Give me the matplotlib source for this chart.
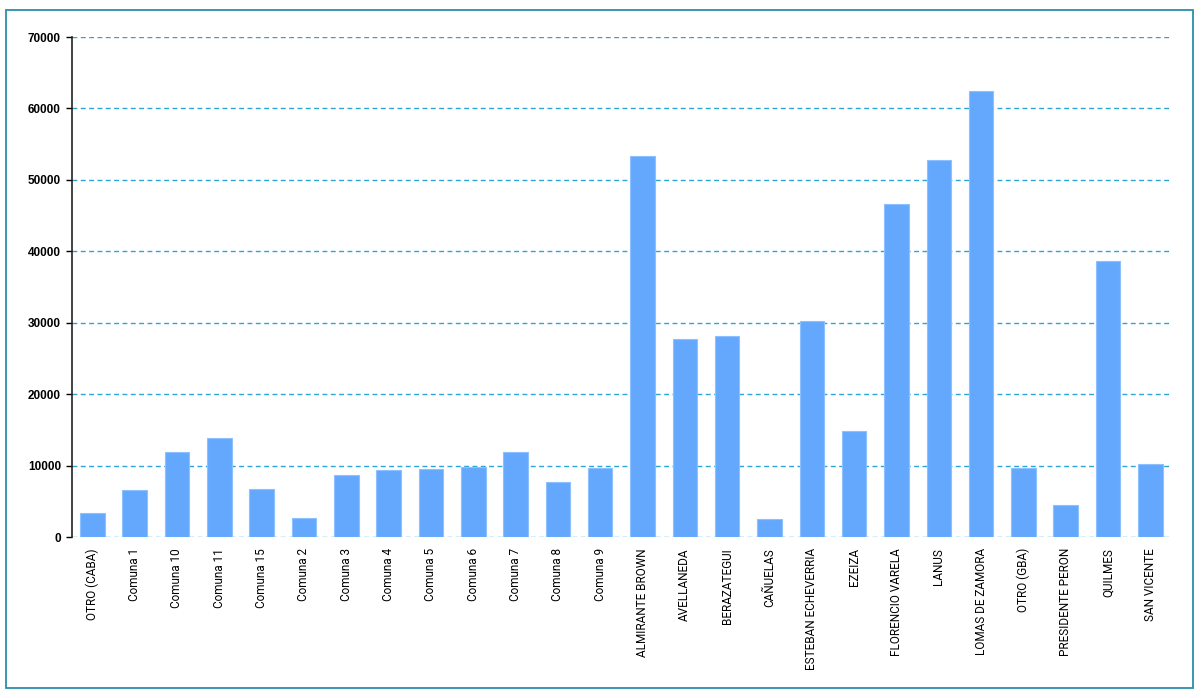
import matplotlib.pyplot as plt
import numpy as np
from matplotlib.patches import Rectangle

# categories and counts
zonas = ['OTRO (CABA)', 'Comuna 1', 'Comuna 10', 'Comuna 11', 'Comuna 15', 'Comuna 2',
         'Comuna 3', 'Comuna 4', 'Comuna 5', 'Comuna 6', 'Comuna 7', 'Comuna 8', 'Comuna 9',
         'ALMIRANTE BROWN', 'AVELLANEDA', 'BERAZATEGUI', 'CAÑUELAS', 'ESTEBAN ECHEVERRIA',
         'EZEIZA', 'FLORENCIO VARELA', 'LANUS', 'LOMAS DE ZAMORA', 'OTRO (GBA)',
         'PRESIDENTE PERON', 'QUILMES', 'SAN VICENTE']
valores = [3400, 6550, 11900, 13800, 6750, 2700,
           8750, 9450, 9550, 9800, 11950, 7750, 9700,
           53350, 27750, 28150, 2550, 30250,
           14850, 46650, 52850, 62500, 9700,
           4450, 38600, 10250]
y_ticks = [0, 10000, 20000, 30000, 40000, 50000, 60000, 70000]

fig = plt.figure(figsize=(12.01, 6.98), dpi=100)
# teal frame around the whole chart
fig.patches.append(Rectangle((6 / 1201, 10 / 698), 1187 / 1201, 678 / 698, transform=fig.transFigure,
                             fill=False, edgecolor='#2B8FAE', linewidth=1.3))

ax = fig.add_axes([72 / 1201, 1 - 537 / 698, 1100 / 1201, 500 / 698])
x = np.arange(len(zonas))
ax.bar(x, valores, width=0.58, color='#64A8FD', edgecolor='#8CC0FF', linewidth=0.8, zorder=2)

ax.set_xlim(-0.48, 25.51)
ax.set_ylim(0, 70000)
ax.set_yticks(y_ticks)
ax.set_yticklabels([str(v) for v in y_ticks], fontweight='bold', fontsize=8.5,
                   family=['Liberation Sans', 'DejaVu Sans'])
ax.yaxis.grid(True, linestyle=(0, (3.5, 2.5)), color='#2AA5D6', linewidth=1.0, zorder=1)
ax.set_xticks(x)
ax.set_xticklabels(zonas, rotation=90, fontsize=8.5, family=['Roboto', 'DejaVu Sans'],
                   fontstretch='condensed')
ax.tick_params(axis='x', length=0, pad=8)
ax.tick_params(axis='y', length=4, width=1, pad=4)

for s in ['top', 'right', 'bottom']:
    ax.spines[s].set_visible(False)
ax.spines['left'].set_color('#222222')
ax.spines['left'].set_linewidth(1.2)

plt.savefig('out.png', dpi=100)
